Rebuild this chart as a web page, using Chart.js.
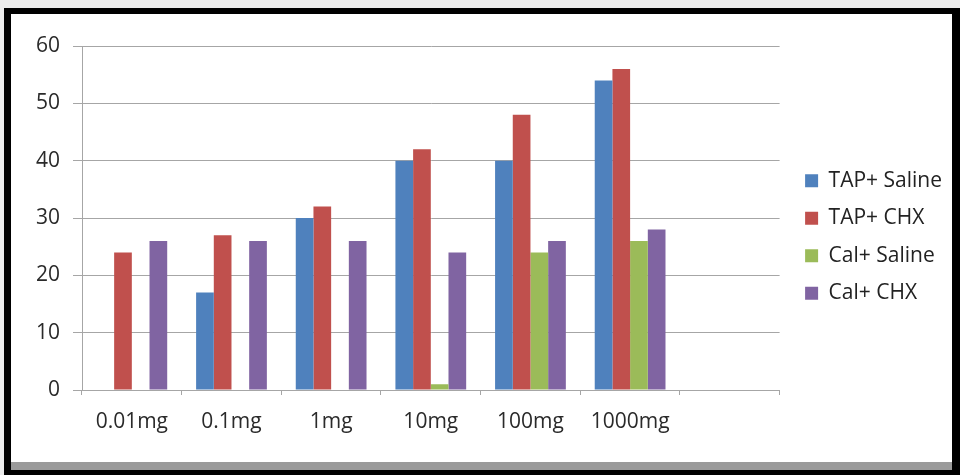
<!DOCTYPE html>
<html>
<head>
<meta charset="utf-8">
<script src="https://cdn.jsdelivr.net/npm/chart.js@4"></script>
<style>
  body { margin: 0; background: #ececec; }
  #frame { position: absolute; left: 4px; top: 8px; width: 956px; height: 467px; background: #000; }
  #paper { position: absolute; left: 7px; top: 6px; width: 941px; height: 448px; background: #fff; }
  #stripe { position: absolute; left: 7px; top: 454px; width: 941px; height: 8px; background: #9a9a9a; }
</style>
</head>
<body>
<div id="frame">
  <div id="paper"><canvas id="myChart" width="941" height="448"></canvas></div>
  <div id="stripe"></div>
</div>
<script>
// Values
const doses = ["0.01mg", "0.1mg", "1mg", "10mg", "100mg", "1000mg", ""];
const tapSaline = [0, 17, 30, 40, 40, 54];
const tapChx = [24, 27, 32, 42, 48, 56];
const calSaline = [0, 0, 0, 1, 24, 26];
const calChx = [26, 26, 26, 24, 26, 28];

const font = { family: "'Open Sans', sans-serif", size: 21 };
const gridGray = "#a6a6a6";

const data = {
  labels: doses,
  datasets: [
    { label: "TAP+ Saline", data: tapSaline, backgroundColor: "#4F81BD" },
    { label: "TAP+ CHX", data: tapChx, backgroundColor: "#C0504D" },
    { label: "Cal+ Saline", data: calSaline, backgroundColor: "#9BBB59" },
    { label: "Cal+ CHX", data: calChx, backgroundColor: "#8064A2" },
  ],
};

// nudge the legend a bit right and up, the way Excel places it
const legendShift = {
  id: "legendShift",
  afterLayout(chart) {
    const lg = chart.legend;
    lg.left += 9;
    lg.right += 9;
    lg.top -= 17;
    lg.bottom -= 17;
  },
};

const config = {
  type: "bar",
  data: data,
  options: {
    responsive: false,
    animation: false,
    layout: { padding: { top: 32, right: 9, bottom: 0, left: 0 } },
    datasets: { bar: { categoryPercentage: 0.71, barPercentage: 1 } },
    scales: {
      x: {
        grid: { drawOnChartArea: false, drawTicks: true, tickLength: 5, color: gridGray },
        border: { color: gridGray },
        ticks: { font: font, color: "#2a2a2a", padding: 14 },
        afterFit(scale) { scale.height = 72; },
      },
      y: {
        min: 0,
        max: 60,
        ticks: { stepSize: 10, font: font, color: "#2a2a2a", padding: 13 },
        grid: { color: gridGray, tickLength: 9 },
        border: { color: gridGray },
        afterFit(scale) { scale.width = 71; },
      },
    },
    plugins: {
      legend: {
        position: "right",
        labels: { font: font, color: "#222", boxWidth: 13, boxHeight: 13, padding: 16.5 },
      },
      tooltip: { enabled: false },
    },
  },
  plugins: [legendShift],
};

window.onload = function () {
  const ctx = document.getElementById("myChart");
  new Chart(ctx, config);
};
</script>
</body>
</html>
